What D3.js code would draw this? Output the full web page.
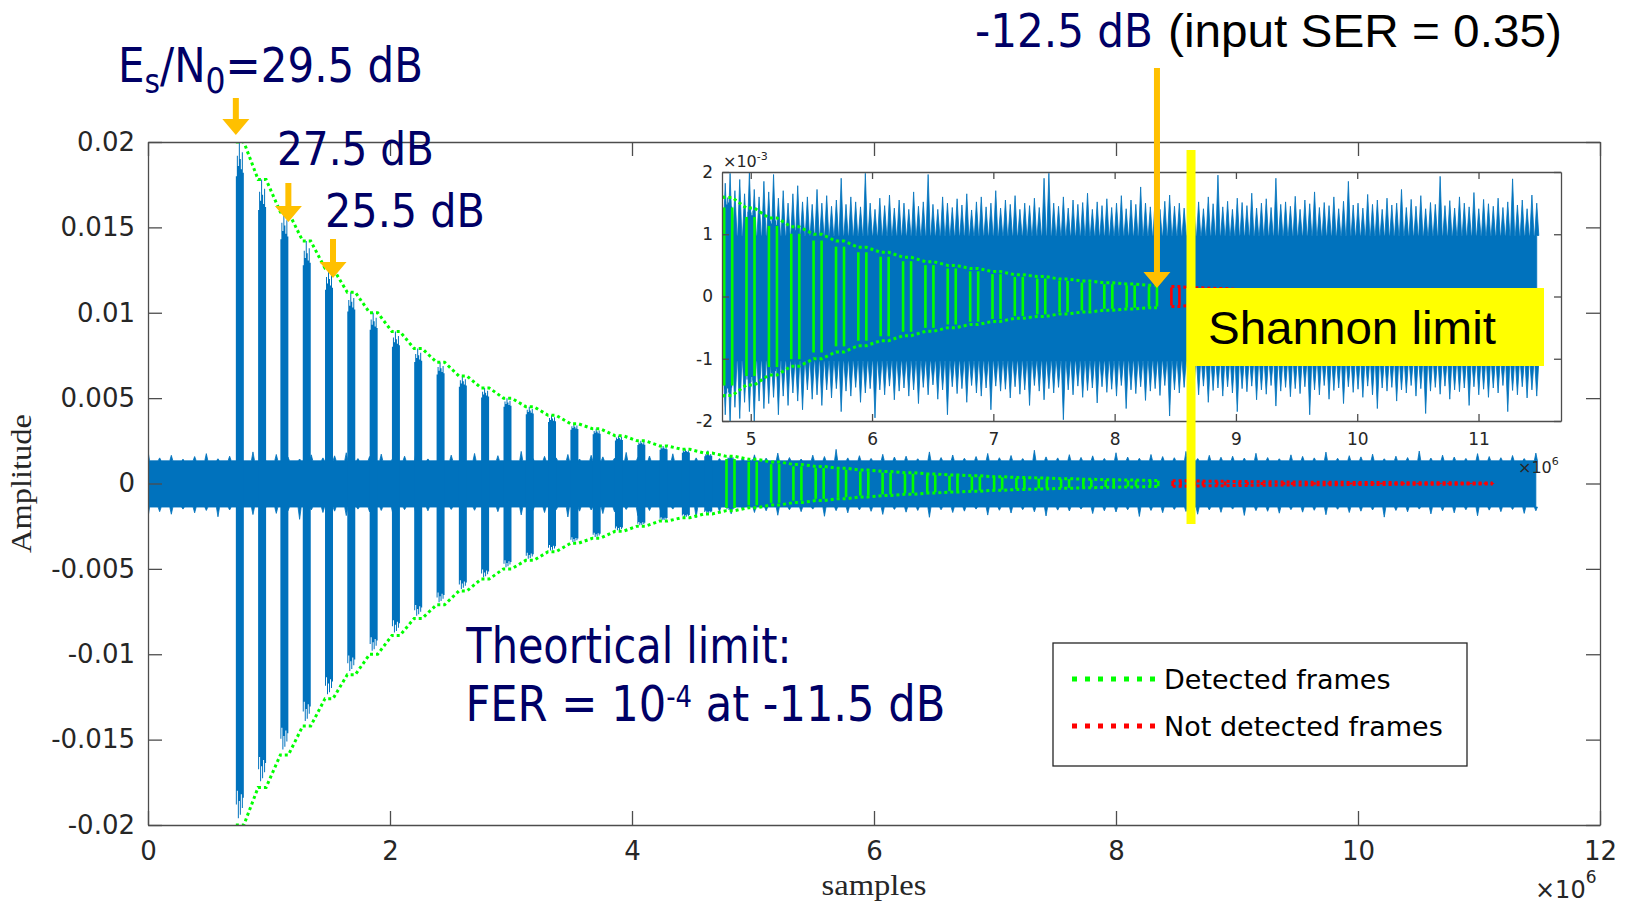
<!DOCTYPE html>
<meta charset="utf-8">
<style>
body { margin: 0; background: #fff; }
svg { display: block; }
.axis path, .axis line { stroke: #4d4d4d; stroke-width: 1.3; }
</style>
<body>
<script src="https://d3js.org/d3.v7.min.js"></script>
<script>

// axis ticks (x in 10^6 samples, inset y in 10^-3)
var xMainTicks = [0, 2, 4, 6, 8, 10, 12];
var yMainTicks = [-0.02, -0.015, -0.01, -0.005, 0, 0.005, 0.01, 0.015, 0.02];
var xInsetTicks = [5, 6, 7, 8, 9, 10, 11];
var yInsetTicks = [-2, -1, 0, 1, 2];

// frames: start (10^3 samples) and peak amplitude (10^-3)
var frameLen = 66;
var detectedStart = [726, 910, 1094, 1279, 1463, 1647, 1832, 2016, 2200, 2385, 2569, 2753, 2938, 3122,
  3306, 3491, 3675, 3859, 4044, 4228, 4412, 4597, 4781, 4965, 5150, 5334, 5518, 5703, 5887, 6071,
  6256, 6440, 6624, 6809, 6993, 7177, 7362, 7546, 7730, 7915, 8099, 8283];
var detectedAmp = [20.0, 17.8, 15.9, 14.2, 12.6, 11.2, 10.0, 8.9, 7.9, 7.1, 6.3, 5.6, 5.0, 4.5,
  4.0, 3.5, 3.2, 2.8, 2.5, 2.2, 2.0, 1.78, 1.59, 1.42, 1.26, 1.12, 1.00, 0.89, 0.79, 0.71,
  0.63, 0.56, 0.50, 0.45, 0.40, 0.35, 0.32, 0.28, 0.25, 0.22, 0.20, 0.18];
var missedStart = [8468, 8652, 8836, 9021, 9205, 9389, 9574, 9758, 9942, 10127, 10311, 10495, 10680, 10864, 11048];
var missedAmp = [0.16, 0.14, 0.13, 0.11, 0.10, 0.09, 0.08, 0.07, 0.063, 0.056, 0.05, 0.045, 0.04, 0.035, 0.032];

// shape of a frame burst, relative to its peak
var barTop = [0.90, 0.96, 0.93, 1.00, 0.95, 0.92, 0.97, 0.91];
var barBot = [0.94, 0.90, 0.98, 0.93, 0.97, 0.91, 0.95, 0.92];

// noise peaks (10^-5), main trace 0 .. 11.47e6
var mainNoiseTop = [190,150,165,142,158,175,145,160,152,185,148,170,155,143,168,150,162,180,146,158,
  172,149,160,195,144,157,166,151,176,145,163,154,188,147,159,150,170,143,165,156,
  148,182,153,161,145,174,157,150,192,146,162,155,168,149,178,152,143,166,158,200,
  150,163,147,171,155,160,145,185,152,167,148,158,176,151,164,146,195,156,150,169,
  153,162,147,180,155,148,170,158,151,188,146,165,154,160,149,177,152,145,168,159,
  150,184,148,163,156,172,145,160,152,190,149,166,155,147,175,158,151,164,146,178];
var mainNoiseBot = [200,165,180,150,172,158,195,155,168,182,152,175,160,210,155,170,162,188,150,166,
  158,178,153,190,160,168,152,205,157,172,165,150,184,158,170,153,196,162,155,176,
  166,152,188,158,174,150,169,200,155,163,178,152,170,160,186,154,165,150,192,159,
  172,155,163,181,152,168,158,198,154,170,162,150,185,157,173,153,166,190,156,161,
  150,176,160,167,154,193,158,171,152,164,180,155,169,150,187,159,163,174,153,168,
  157,183,151,170,162,155,197,158,166,150,178,160,172,154,189,156,165,152,175,160];

// noise peaks (10^-5), inset trace 4.75e6 .. 11.48e6
var insetNoiseTop = [205,182,198,170,188,165,200,172,160,185,168,196,158,170,150,165,178,152,160,148,
  172,150,162,145,155,190,148,160,152,144,198,150,140,158,146,163,142,155,150,140,
  168,145,152,196,148,140,160,150,143,157,147,165,139,152,160,144,150,170,142,155,
  148,162,140,150,146,158,143,190,198,150,145,160,142,155,148,151,166,140,152,146,
  157,143,150,162,141,155,148,176,150,144,158,140,153,163,145,150,142,170,147,152,
  141,160,149,195,144,153,140,158,151,146,166,142,150,157,143,190,148,152,145,161,
  140,155,149,168,143,151,146,160,141,153,185,147,150,142,164,148,155,140,158,147,
  150,172,143,156,145,162,141,151,148,193,146,154,142,160,150,144,167,141,156,149,
  145,158,143,152,189,147,155,141,163,150];
var insetNoiseBot = [210,190,205,178,196,170,185,200,168,180,172,162,190,160,175,155,168,182,150,165,
  158,175,150,163,148,185,152,160,146,170,155,148,195,150,158,144,166,152,147,160,
  150,172,146,158,142,165,150,190,145,156,148,170,143,155,160,147,182,144,152,149,
  163,145,157,150,175,143,152,166,148,155,146,198,150,158,144,162,151,147,171,145,
  154,149,160,143,180,150,156,145,167,152,148,159,143,192,150,155,146,163,149,158,
  144,170,151,147,160,145,155,185,148,153,144,166,150,157,143,176,152,146,161,148,
  156,145,190,150,158,143,165,151,147,172,145,154,149,162,144,158,180,147,152,146,
  168,150,155,143,160,148,188,152,146,157,144,165,150,153,147,175,145,158,149,162,
  147,155,143,185,151,158,145,163,150,160];

var mainNoiseSpan = [0, 11.47e6], insetNoiseSpan = [4.75e6, 11.48e6];
var shannonAt = 8.62e6;

var blue = "#0072bd", green = "#00ff00", red = "#ff0000", navy = "#000066", orange = "#ffc000";

var svg = d3.select("body").append("svg")
    .attr("width", 1627)
    .attr("height", 906);

var xMain = d3.scaleLinear().domain([0, 12e6]).range([148, 1600]);
var yMain = d3.scaleLinear().domain([-0.02, 0.02]).range([825, 142]);
var xIn = d3.scaleLinear().domain([4.763e6, 11.68e6]).range([722, 1561]);
var yIn = d3.scaleLinear().domain([-0.002, 0.002]).range([421, 172]);

var frames = detectedStart.map(function(s, i) {
  return {start: s * 1e3, end: (s + frameLen) * 1e3, amp: detectedAmp[i] * 1e-3, ok: true};
}).concat(missedStart.map(function(s, i) {
  return {start: s * 1e3, end: (s + frameLen) * 1e3, amp: missedAmp[i] * 1e-3, ok: false};
}));

var defs = svg.append("defs");
defs.append("clipPath").attr("id", "clip-main").append("rect")
    .attr("x", 148).attr("y", 142).attr("width", 1452).attr("height", 683);
defs.append("clipPath").attr("id", "clip-inset").append("rect")
    .attr("x", 722).attr("y", 172).attr("width", 839).attr("height", 249);

function noiseOutline(top, bot, span, floorTop, floorBot, hw) {
  var pts = [[span[0], floorTop]];
  var st = (span[1] - span[0]) / (top.length - 1);
  top.forEach(function(v, i) {
    var x = span[0] + i * st;
    pts.push([x - hw, floorTop], [x, v * 1e-5], [x + hw, floorTop]);
  });
  pts.push([span[1], floorTop], [span[1], -floorBot]);
  var sb = (span[1] - span[0]) / (bot.length - 1);
  for (var i = bot.length - 1; i >= 0; i--) {
    var x = span[0] + i * sb;
    pts.push([x + hw, -floorBot], [x, -bot[i] * 1e-5], [x - hw, -floorBot]);
  }
  pts.push([span[0], -floorBot]);
  return pts;
}

function drawSignal(g, xs, ys, noisePts, verticalFrom) {
  var line = d3.line().x(function(d) { return xs(d[0]); }).y(function(d) { return ys(d[1]); });

  g.append("path")
      .attr("d", line(noisePts) + "Z")
      .attr("fill", blue)
      .attr("stroke", blue)
      .attr("stroke-width", 0.8);

  // frame bursts
  var area = d3.area()
      .curve(d3.curveStepAfter)
      .x(function(d) { return xs(d.x); })
      .y0(function(d) { return ys(-d.lo); })
      .y1(function(d) { return ys(d.hi); });
  g.selectAll(".burst")
    .data(frames)
    .enter().append("path")
      .attr("class", "burst")
      .attr("fill", blue)
      .attr("d", function(f) {
        var n = barTop.length, pts = barTop.map(function(t, j) {
          return {x: f.start + j * (f.end - f.start) / n, hi: t * f.amp, lo: barBot[j] * f.amp};
        });
        pts.push({x: f.end, hi: pts[n - 1].hi, lo: pts[n - 1].lo});
        return area(pts);
      });

  [[true, green], [false, red]].forEach(function(kind) {
    var fs = frames.filter(function(f) { return f.ok === kind[0]; });
    [1, -1].forEach(function(sgn) {
      var pts = [];
      fs.forEach(function(f) { pts.push([f.start, sgn * f.amp], [f.end, sgn * f.amp]); });
      g.append("path")
          .attr("d", line(pts))
          .attr("fill", "none")
          .attr("stroke", kind[1])
          .attr("stroke-width", 3)
          .attr("stroke-dasharray", "3 3");
    });
    fs.filter(function(f) { return f.start >= verticalFrom; }).forEach(function(f) {
      [f.start, f.end].forEach(function(x) {
        g.append("line")
            .attr("x1", xs(x)).attr("x2", xs(x))
            .attr("y1", ys(0.9 * f.amp)).attr("y2", ys(-0.9 * f.amp))
            .attr("stroke", kind[1])
            .attr("stroke-width", 2.6);
      });
    });
  });
}

function drawAxes(xs, ys, xt, yt, xfmt, yfmt, tick, padX, padY, fs) {
  var y0 = ys.range()[0], y1 = ys.range()[1], x0 = xs.range()[0], x1 = xs.range()[1];
  var axes = [
    [d3.axisBottom(xs).tickValues(xt).tickFormat(xfmt).tickPadding(padX), "translate(0," + y0 + ")"],
    [d3.axisTop(xs).tickValues(xt).tickFormat(""), "translate(0," + y1 + ")"],
    [d3.axisLeft(ys).tickValues(yt).tickFormat(yfmt).tickPadding(padY), "translate(" + x0 + ",0)"],
    [d3.axisRight(ys).tickValues(yt).tickFormat(""), "translate(" + x1 + ",0)"]
  ];
  axes.forEach(function(a) {
    svg.append("g")
        .attr("class", "axis")
        .attr("transform", a[1])
        .call(a[0].tickSizeInner(-tick).tickSizeOuter(0))
        .attr("font-size", fs)
        .attr("font-family", "'DejaVu Sans', sans-serif")
        .attr("color", "#262626");
  });
}

// main plot
var mainG = svg.append("g").attr("clip-path", "url(#clip-main)");
drawSignal(mainG, xMain, yMain,
  noiseOutline(mainNoiseTop, mainNoiseBot, mainNoiseSpan, 0.00133, 0.00138, 0.013e6), 4.7e6);

drawAxes(xMain, yMain, xMainTicks.map(function(v) { return v * 1e6; }), yMainTicks,
  function(d) { return String(d / 1e6); },
  function(d) { return d === 0 ? "0" : String(+d.toFixed(3)); },
  14, 17, 13, 26);

svg.append("text")
    .attr("x", 874).attr("y", 895)
    .attr("text-anchor", "middle")
    .attr("font-family", "'Liberation Serif', serif")
    .attr("font-size", 29)
    .attr("fill", "#262626")
    .attr("textLength", 105).attr("lengthAdjust", "spacingAndGlyphs")
    .text("samples");

svg.append("text")
    .attr("transform", "translate(31,483.5) rotate(-90)")
    .attr("text-anchor", "middle")
    .attr("font-family", "'Liberation Serif', serif")
    .attr("font-size", 29)
    .attr("fill", "#262626")
    .attr("textLength", 139).attr("lengthAdjust", "spacingAndGlyphs")
    .text("Amplitude");

var mx = svg.append("text")
    .attr("x", 1535).attr("y", 898)
    .attr("font-family", "'DejaVu Sans', sans-serif")
    .attr("font-size", 24)
    .attr("fill", "#262626");
mx.append("tspan").text("\u00d710");
mx.append("tspan").attr("font-size", 17).attr("dy", -15).text("6");

// inset
svg.append("rect")
    .attr("x", 722).attr("y", 172).attr("width", 839).attr("height", 249)
    .attr("fill", "#fff");
var insetG = svg.append("g").attr("clip-path", "url(#clip-inset)");
drawSignal(insetG, xIn, yIn,
  noiseOutline(insetNoiseTop, insetNoiseBot, insetNoiseSpan, 0.00098, 0.00104, 0.017e6), 0);

drawAxes(xIn, yIn, xInsetTicks.map(function(v) { return v * 1e6; }), yInsetTicks.map(function(v) { return v * 1e-3; }),
  function(d, i) { return String(xInsetTicks[i]); },
  function(d, i) { return String(yInsetTicks[i]); },
  7, 12, 9, 17);

var ix = svg.append("text")
    .attr("x", 723).attr("y", 167)
    .attr("font-family", "'DejaVu Sans', sans-serif")
    .attr("font-size", 16)
    .attr("fill", "#262626");
ix.append("tspan").text("\u00d710");
ix.append("tspan").attr("font-size", 11).attr("dy", -7).text("-3");

var ix6 = svg.append("text")
    .attr("x", 1518).attr("y", 473)
    .attr("font-family", "'DejaVu Sans', sans-serif")
    .attr("font-size", 16)
    .attr("fill", "#262626");
ix6.append("tspan").text("\u00d710");
ix6.append("tspan").attr("font-size", 11).attr("dy", -8).text("6");

// legend
var legend = svg.append("g");
legend.append("rect")
    .attr("x", 1053).attr("y", 643).attr("width", 414).attr("height", 123)
    .attr("fill", "#fff").attr("stroke", "#262626").attr("stroke-width", 1.3);
[["Detected frames", green, 679], ["Not detected frames", red, 726]].forEach(function(e) {
  legend.append("line")
      .attr("x1", 1072).attr("x2", 1158).attr("y1", e[2]).attr("y2", e[2])
      .attr("stroke", e[1]).attr("stroke-width", 5).attr("stroke-dasharray", "5 8");
  legend.append("text")
      .attr("x", 1164).attr("y", e[2] + 9.5)
      .attr("font-family", "'DejaVu Sans', sans-serif")
      .attr("font-size", 27)
      .attr("fill", "#000")
      .text(e[0]);
});

// Shannon limit marker
svg.append("rect")
    .attr("x", xMain(shannonAt) - 4.5).attr("y", 150).attr("width", 9).attr("height", 374)
    .attr("fill", "#ffff00");
svg.append("rect")
    .attr("x", xMain(shannonAt) - 4.5).attr("y", 288).attr("width", 1544 - xMain(shannonAt) + 4.5).attr("height", 78)
    .attr("fill", "#ffff00");

// arrows
var arrows = [
  {x: xMain(detectedStart[0] * 1e3), top: 98, tip: 135},
  {x: xMain((detectedStart[2] + frameLen) * 1e3), top: 183, tip: 222},
  {x: xMain((detectedStart[4] + frameLen) * 1e3), top: 239, tip: 278},
  {x: xIn((detectedStart[41] + frameLen) * 1e3), top: 68, tip: 288}
];
svg.selectAll(".arrow")
  .data(arrows)
  .enter().append("path")
    .attr("class", "arrow")
    .attr("fill", orange)
    .attr("d", function(a) {
      var h = a.tip - 16;
      return "M" + (a.x - 3) + "," + a.top + "H" + (a.x + 3) + "V" + h + "H" + (a.x + 13.5) +
        "L" + a.x + "," + a.tip + "L" + (a.x - 13.5) + "," + h + "H" + (a.x - 3) + "Z";
    });

// fitted annotation text
function fitText(x, y, w, font, size, color, build) {
  var g = svg.append("g");
  var t = g.append("text")
      .attr("font-family", font)
      .attr("font-size", size)
      .attr("fill", color);
  build(t);
  var b = t.node().getBBox(), s = w / b.width;
  g.attr("transform", "translate(" + (x - b.x * s) + "," + y + ") scale(" + s + ",1)");
}
var sans = "'DejaVu Sans', sans-serif", arial = "'Liberation Sans', Arial, sans-serif";

fitText(118, 82, 305, sans, 48, navy, function(t) {
  t.append("tspan").text("E");
  t.append("tspan").attr("font-size", 34).attr("dy", 11).text("s");
  t.append("tspan").attr("dy", -11).text("/N");
  t.append("tspan").attr("font-size", 36).attr("dy", 11).text("0");
  t.append("tspan").attr("dy", -11).text("=29.5 dB");
});
fitText(277, 165, 157, sans, 46, navy, function(t) { t.text("27.5 dB"); });
fitText(325, 227, 160, sans, 47, navy, function(t) { t.text("25.5 dB"); });
fitText(975, 47, 178, sans, 46, navy, function(t) { t.text("-12.5 dB"); });
fitText(1168, 47, 394, arial, 46, "#000", function(t) { t.text("(input SER = 0.35)"); });
fitText(465.5, 663, 326, sans, 50, navy, function(t) { t.text("Theortical limit:"); });
fitText(465.5, 721, 480, sans, 50, navy, function(t) {
  t.append("tspan").text("FER = 10");
  t.append("tspan").attr("font-size", 30).attr("dy", -14).text("-4");
  t.append("tspan").attr("dy", 14).text(" at -11.5 dB");
});
fitText(1208, 344, 288, arial, 47, "#000", function(t) { t.text("Shannon limit"); });

</script>
